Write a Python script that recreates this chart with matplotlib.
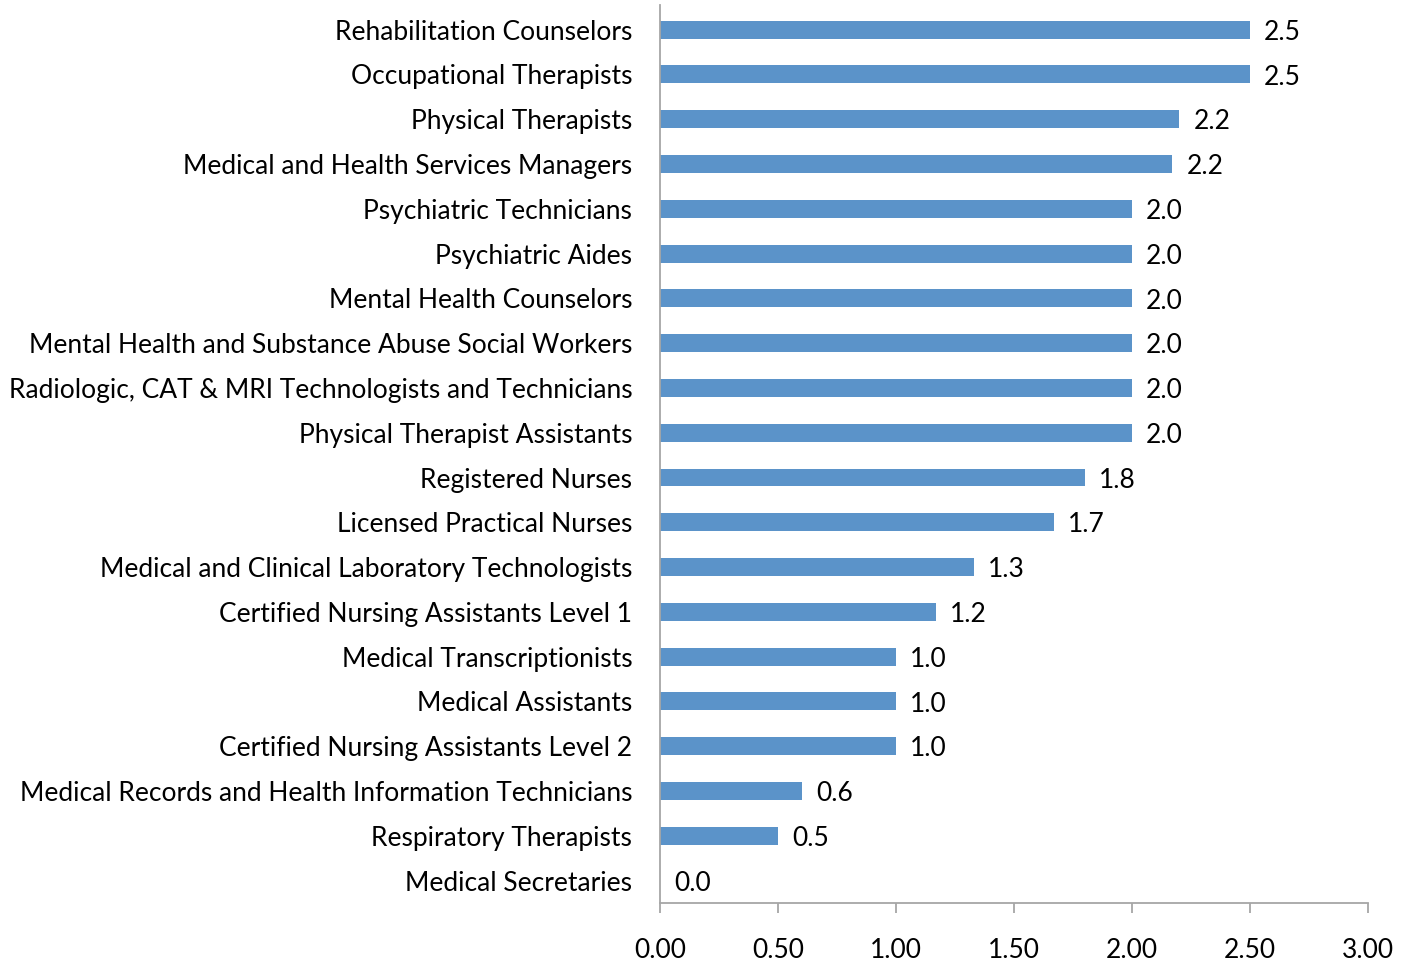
import numpy as np
import matplotlib
matplotlib.use("Agg")
import matplotlib.pyplot as plt

occupations = [
    "Rehabilitation Counselors",
    "Occupational Therapists",
    "Physical Therapists",
    "Medical and Health Services Managers",
    "Psychiatric Technicians",
    "Psychiatric Aides",
    "Mental Health Counselors",
    "Mental Health and Substance Abuse Social Workers",
    "Radiologic, CAT & MRI Technologists and Technicians",
    "Physical Therapist Assistants",
    "Registered Nurses",
    "Licensed Practical Nurses",
    "Medical and Clinical Laboratory Technologists",
    "Certified Nursing Assistants Level 1",
    "Medical Transcriptionists",
    "Medical Assistants",
    "Certified Nursing Assistants Level 2",
    "Medical Records and Health Information Technicians",
    "Respiratory Therapists",
    "Medical Secretaries",
]
values = [2.5, 2.5, 2.2, 2.17, 2.0, 2.0, 2.0, 2.0, 2.0, 2.0,
          1.8, 1.67, 1.33, 1.17, 1.0, 1.0, 1.0, 0.6, 0.5, 0.0]
xticks = [0.0, 0.5, 1.0, 1.5, 2.0, 2.5, 3.0]

plt.rcParams["font.family"] = ["Lato", "DejaVu Sans"]
fs = 19

fig = plt.figure(figsize=(14.14, 9.66), dpi=100)
ax = fig.add_axes([660 / 1414, 1 - 903 / 966, 708 / 1414, 898 / 966])

pos = np.arange(len(occupations))
ax.barh(pos, values, height=0.4, color="#5B93C9")
for y, v in zip(pos, values):
    ax.text(v + 0.06, y + 0.06, "{:.1f}".format(v), va="center", ha="left", fontsize=fs)

ax.set_yticks(pos)
ax.set_yticklabels(occupations, fontsize=fs)
ax.set_ylim(len(occupations) - 0.5, -0.55)
ax.set_xlim(0, 3.0)
ax.set_xticks(xticks)
ax.set_xticklabels(["{:.2f}".format(t) for t in xticks], fontsize=fs)

for s in ("top", "right"):
    ax.spines[s].set_visible(False)
for s in ("left", "bottom"):
    ax.spines[s].set_color("#A6A6A6")
    ax.spines[s].set_linewidth(1.3)
ax.tick_params(axis="y", length=0, pad=20)
ax.tick_params(axis="x", length=7, width=1.3, color="#A6A6A6", pad=18)

fig.savefig("out.png", dpi=100)
